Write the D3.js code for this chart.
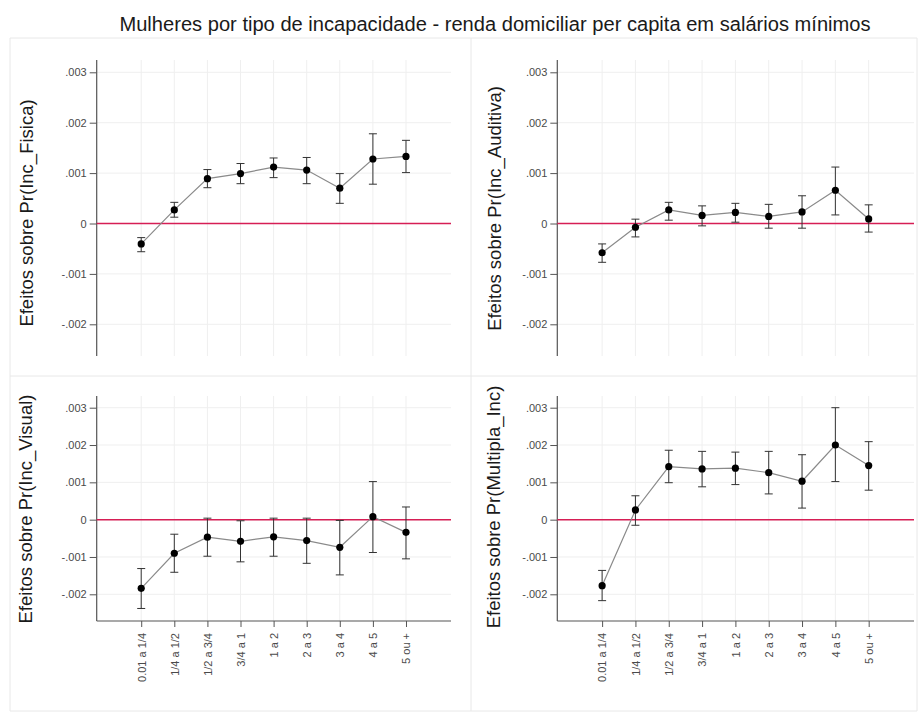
<!DOCTYPE html>
<html>
<head>
<meta charset="utf-8">
<script src="https://cdn.jsdelivr.net/npm/d3@7"></script>
<style>
  html, body { margin: 0; padding: 0; background: #fff; }
  svg { display: block; font-family: "Liberation Sans", Arial, sans-serif; }
</style>
</head>
<body>
<svg id="chart" width="918" height="712"></svg>
<script>
const chartTitle = "Mulheres por tipo de incapacidade - renda domiciliar per capita em salários mínimos";
const categories = ["0.01 a 1/4", "1/4 a 1/2", "1/2 a 3/4", "3/4 a 1", "1 a 2", "2 a 3", "3 a 4", "4 a 5", "5 ou +"];
const yTickValues = [-0.002, -0.001, 0, 0.001, 0.002, 0.003];
const yTickLabels = ["-.002", "-.001", "0", ".001", ".002", ".003"];
const panelTitles = ["Efeitos sobre Pr(Inc_Fisica)", "Efeitos sobre Pr(Inc_Auditiva)", "Efeitos sobre Pr(Inc_Visual)", "Efeitos sobre Pr(Multipla_Inc)"];

const fisicaEst = [-0.000405, 0.00027, 0.00089, 0.00099, 0.00112, 0.00106, 0.0007, 0.00128, 0.00133];
const fisicaHi  = [-0.00028, 0.00042, 0.00107, 0.00119, 0.0013, 0.00131, 0.00099, 0.00178, 0.00165];
const fisicaLo  = [-0.00056, 0.000125, 0.00071, 0.00079, 0.00091, 0.00079, 0.0004, 0.00078, 0.00101];

const auditivaEst = [-0.00058, -0.000074, 0.00027, 0.00016, 0.00022, 0.00014, 0.00023, 0.00066, 0.00009];
const auditivaHi  = [-0.000405, 0.000086, 0.00042, 0.00035, 0.0004, 0.00038, 0.00055, 0.00112, 0.00037];
const auditivaLo  = [-0.00077, -0.000266, 0.000066, -0.000047, 0.000026, -0.000093, -0.000093, 0.00017, -0.00017];

const visualEst = [-0.00184, -0.0009, -0.00047, -0.00058, -0.00046, -0.00056, -0.00074, 0.00008, -0.00034];
const visualHi  = [-0.00131, -0.00039, 0.00004, -0.00003, 0.00004, 0.00004, -0.00002, 0.00102, 0.00034];
const visualLo  = [-0.00238, -0.00141, -0.00098, -0.00113, -0.00098, -0.00117, -0.00148, -0.00088, -0.00105];

const multiplaEst = [-0.00177, 0.00026, 0.00142, 0.00136, 0.00138, 0.00126, 0.00103, 0.002, 0.00145];
const multiplaHi  = [-0.00136, 0.00064, 0.00186, 0.00183, 0.00181, 0.00183, 0.00174, 0.003, 0.00209];
const multiplaLo  = [-0.00217, -0.00015, 0.00099, 0.00088, 0.00094, 0.00069, 0.00031, 0.00102, 0.00079];

const svg = d3.select("#chart");

// panel frames
const frameColor = "#e8e8e8";
[10, 471, 917].forEach(x => svg.append("line").attr("x1", x).attr("x2", x).attr("y1", 38).attr("y2", 711).attr("stroke", frameColor));
[38, 376, 711].forEach(y => svg.append("line").attr("x1", 10).attr("x2", 917).attr("y1", y).attr("y2", y).attr("stroke", frameColor));

// title
const t = svg.append("text").attr("x", 495).attr("y", 31).attr("text-anchor", "middle")
  .attr("fill", "#1a1a1a").style("font-size", "16px").text(chartTitle);
const tl = t.node().getComputedTextLength();
t.style("font-size", (16 * 751 / tl).toFixed(2) + "px");

const panels = [
  { title: panelTitles[0], est: fisicaEst, lo: fisicaLo, hi: fisicaHi, left: 96.7, right: 451, top: 60, bottom: 356, y0: 324.3, y3: 72.3, xAxis: false, titleX: 33, titleY: 213 },
  { title: panelTitles[1], est: auditivaEst, lo: auditivaLo, hi: auditivaHi, left: 557.3, right: 914, top: 60, bottom: 356, y0: 324.3, y3: 72.3, xAxis: false, titleX: 500.5, titleY: 208.5 },
  { title: panelTitles[2], est: visualEst, lo: visualLo, hi: visualHi, left: 96.7, right: 451, top: 396, bottom: 621, y0: 594.3, y3: 407.7, xAxis: true, titleX: 32.3, titleY: 509 },
  { title: panelTitles[3], est: multiplaEst, lo: multiplaLo, hi: multiplaHi, left: 557.3, right: 914, top: 396, bottom: 621, y0: 594.3, y3: 407.7, xAxis: true, titleX: 499.7, titleY: 507 }
];

panels.forEach(p => {
  const g = svg.append("g");
  const x = d3.scaleLinear().domain([-1.345, 9.36]).range([p.left, p.right]);
  const y = d3.scaleLinear().domain([-0.002, 0.003]).range([p.y0, p.y3]);
  const idx = categories.map((c, i) => i);

  // grid
  g.append("g").selectAll("line").data(yTickValues).join("line")
    .attr("x1", p.left).attr("x2", p.right).attr("y1", d => y(d)).attr("y2", d => y(d))
    .attr("stroke", "#efefef").attr("stroke-width", 1);
  g.append("g").selectAll("line").data(idx).join("line")
    .attr("x1", d => x(d)).attr("x2", d => x(d)).attr("y1", p.top).attr("y2", p.bottom)
    .attr("stroke", "#efefef").attr("stroke-width", 1);

  // y axis
  const yAxis = d3.axisLeft(y).tickValues(yTickValues).tickSize(7).tickPadding(3)
    .tickFormat((d, i) => yTickLabels[i]);
  const ya = g.append("g").attr("transform", `translate(${p.left},0)`).call(yAxis);
  ya.select(".domain").remove();
  ya.selectAll(".tick line").attr("stroke", "#555");
  ya.selectAll(".tick text").attr("fill", "#4a4a4a").style("font-size", "11px").style("font-family", "'Liberation Sans', Arial, sans-serif");
  g.append("line").attr("x1", p.left).attr("x2", p.left).attr("y1", p.top).attr("y2", p.bottom)
    .attr("stroke", "#555").attr("stroke-width", 1.2);

  // x axis
  if (p.xAxis) {
    const xAxis = d3.axisBottom(x).tickValues(idx).tickSize(6).tickFormat(d => categories[d]);
    const xa = g.append("g").attr("transform", `translate(0,${p.bottom})`).call(xAxis);
    xa.select(".domain").remove();
    xa.selectAll(".tick line").attr("stroke", "#555");
    xa.selectAll(".tick text")
      .attr("fill", "#4a4a4a").style("font-size", "11px").style("font-family", "'Liberation Sans', Arial, sans-serif")
      .attr("text-anchor", "end").attr("transform", "rotate(-90)")
      .attr("x", -12).attr("y", 0).attr("dy", "0.35em");
    g.append("line").attr("x1", p.left).attr("x2", p.right).attr("y1", p.bottom).attr("y2", p.bottom)
      .attr("stroke", "#555").attr("stroke-width", 1.2);
  }

  // zero line
  g.append("line").attr("x1", p.left).attr("x2", p.right).attr("y1", y(0)).attr("y2", y(0))
    .attr("stroke", "#d61e55").attr("stroke-width", 1.5);

  // connecting line
  const line = d3.line().x((d, i) => x(i)).y(d => y(d));
  g.append("path").datum(p.est).attr("d", line).attr("fill", "none")
    .attr("stroke", "#8a8a8a").attr("stroke-width", 1.2);

  // error bars
  const eb = g.append("g").attr("stroke", "#333").attr("stroke-width", 1);
  idx.forEach(i => {
    eb.append("line").attr("x1", x(i)).attr("x2", x(i)).attr("y1", y(p.lo[i])).attr("y2", y(p.hi[i]));
    eb.append("line").attr("x1", x(i) - 4).attr("x2", x(i) + 4).attr("y1", y(p.lo[i])).attr("y2", y(p.lo[i]));
    eb.append("line").attr("x1", x(i) - 4).attr("x2", x(i) + 4).attr("y1", y(p.hi[i])).attr("y2", y(p.hi[i]));
  });

  // markers
  g.append("g").selectAll("circle").data(p.est).join("circle")
    .attr("cx", (d, i) => x(i)).attr("cy", d => y(d)).attr("r", 3.6).attr("fill", "#000");

  // axis title
  g.append("text").attr("transform", `translate(${p.titleX},${p.titleY}) rotate(-90)`)
    .attr("text-anchor", "middle").attr("fill", "#1a1a1a").style("font-size", "18.5px").text(p.title);
});
</script>
</body>
</html>
